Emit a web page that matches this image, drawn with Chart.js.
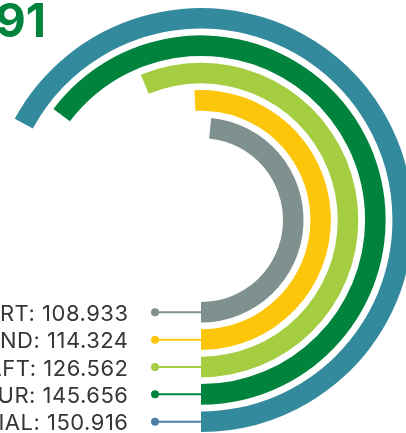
<!DOCTYPE html>
<html>
<head>
<meta charset="utf-8">
<script src="https://cdn.jsdelivr.net/npm/chart.js@4.4.1/dist/chart.umd.min.js"></script>
<style>
  html, body { margin: 0; padding: 0; background: #fff; overflow: hidden; }
  body { width: 406px; height: 433px; position: relative; }
  #wrap { position: absolute; left: -100px; top: 0; width: 513px; height: 433px; }
</style>
</head>
<body>
<div id="wrap"><canvas id="radial-chart"></canvas></div>
<script>
// rings, outer to inner
const labels = ["TRIAL", "TOUR", "DRAFT", "BRAND", "START"];
const values = [150.916, 145.656, 126.562, 114.324, 108.933];
const ringColors = ["#348a9d", "#00843d", "#a4cd41", "#fec60b", "#7f918f"];
const markerColors = ["#4b7fa8", "#00843d", "#a4cd41", "#fec60b", "#7f918f"];
const fullCircle = 225; // value for a full turn

const total = values.reduce((a, b) => a + b, 0);

// one dataset per ring, thin transparent ones in between for the gaps
const datasets = [];
values.forEach((v, i) => {
  if (i > 0) {
    datasets.push({
      data: [1],
      backgroundColor: ["rgba(0,0,0,0)"],
      borderWidth: 0,
      weight: 6.8,
      spacer: true
    });
  }
  datasets.push({
    label: labels[i],
    data: [fullCircle - v, v],
    backgroundColor: ["rgba(0,0,0,0)", ringColors[i]],
    borderWidth: 0,
    weight: 20.5
  });
});

const labelPlugin = {
  id: "ringLabels",
  afterDatasetsDraw(chart) {
    const ctx = chart.ctx;
    ctx.save();
    // big total
    ctx.fillStyle = "#00843d";
    ctx.font = "bold 47px Inter";
    ctx.textAlign = "right";
    ctx.textBaseline = "alphabetic";
    ctx.fillText(total.toFixed(3), 146, 37);

    let ring = 0;
    chart.data.datasets.forEach((ds, di) => {
      if (ds.spacer) return;
      const arc = chart.getDatasetMeta(di).data[1];
      const y = arc.y + (arc.innerRadius + arc.outerRadius) / 2;
      const dotX = 255;
      ctx.strokeStyle = markerColors[ring];
      ctx.lineWidth = 2;
      ctx.beginPath();
      ctx.moveTo(dotX, y);
      ctx.lineTo(arc.x, y);
      ctx.stroke();
      ctx.fillStyle = markerColors[ring];
      ctx.beginPath();
      ctx.arc(dotX, y, 4, 0, Math.PI * 2);
      ctx.fill();

      ctx.fillStyle = "#363636";
      ctx.font = "22px Inter";
      ctx.letterSpacing = "0.5px";
      ctx.textAlign = "right";
      ctx.textBaseline = "middle";
      ctx.fillText(ds.label + ": " + values[ring].toFixed(3), 228.5, y + 2);
      ring++;
    });
    ctx.restore();
  }
};

new Chart(document.getElementById("radial-chart"), {
  type: "doughnut",
  data: { labels: ["rest", "value"], datasets: datasets },
  options: {
    responsive: true,
    maintainAspectRatio: false,
    animation: false,
    events: [],
    rotation: 180,
    circumference: 360,
    cutout: 82,
    layout: { padding: { left: 89, top: 8, right: 0, bottom: 1 } },
    plugins: {
      legend: { display: false },
      tooltip: { enabled: false }
    }
  },
  plugins: [labelPlugin]
});
</script>
</body>
</html>
